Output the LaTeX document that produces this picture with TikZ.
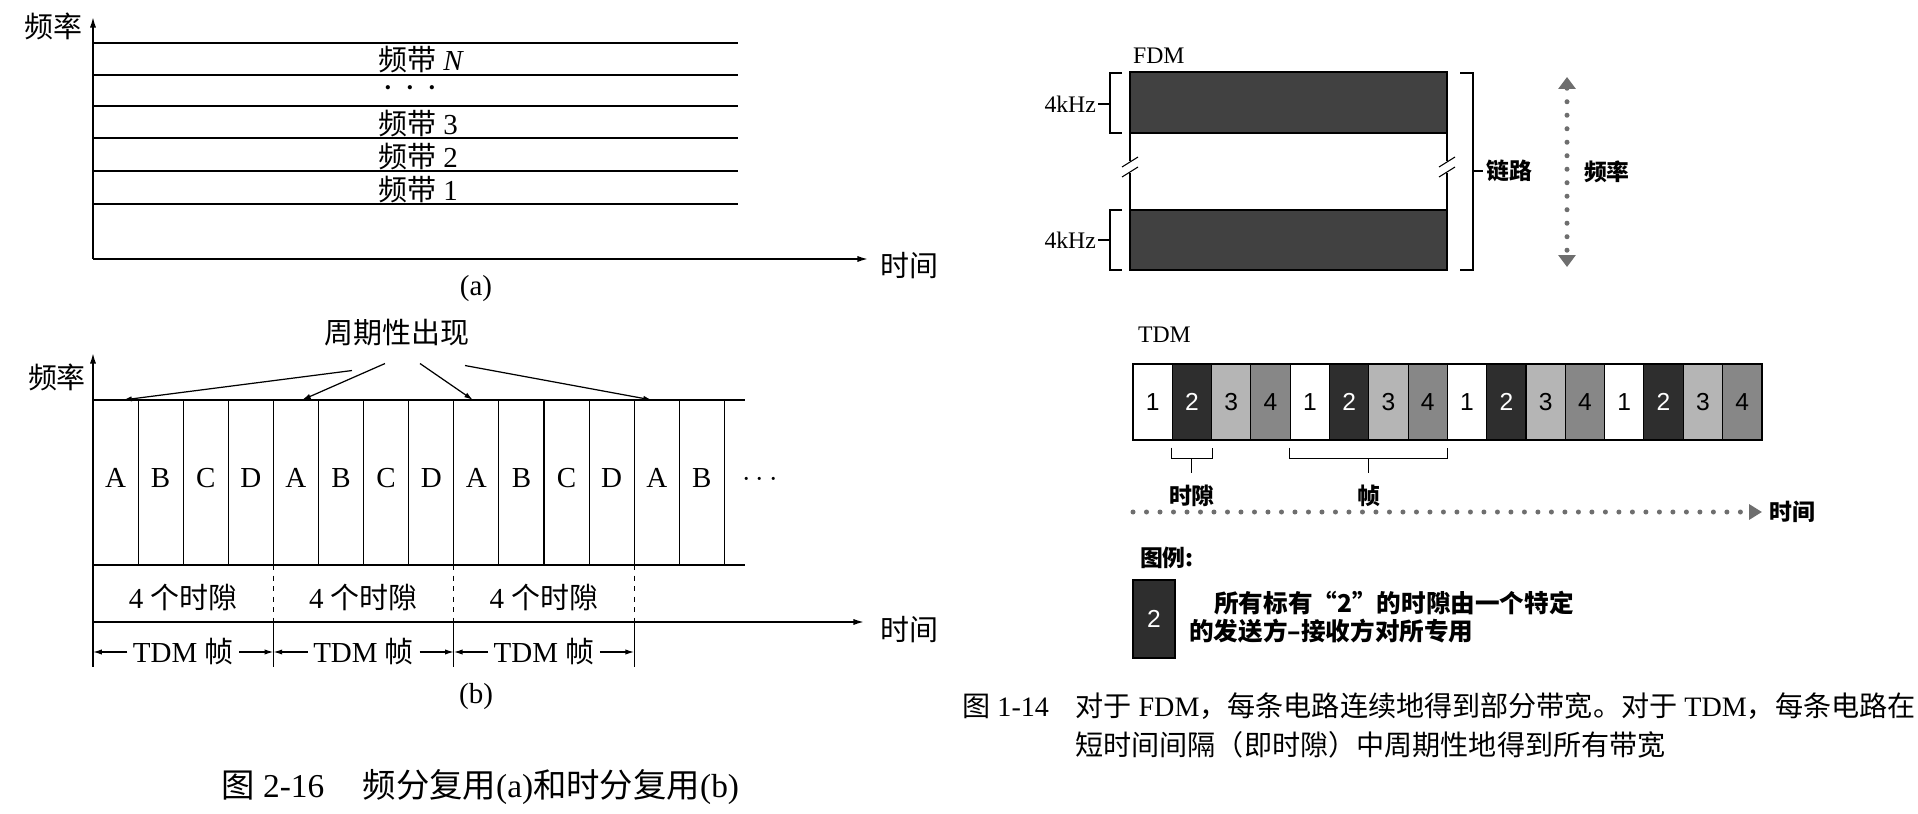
\documentclass[tikz,border=0pt]{standalone}
\usepackage{fontspec}
\setmainfont{Liberation Serif}
\newfontfamily\cjk{Noto Sans CJK SC}
\newfontfamily\numfont{Liberation Sans}
\usetikzlibrary{arrows.meta, positioning, calc}
\definecolor{slotDark}{HTML}{2E2E2E}
\definecolor{slotLight}{HTML}{B5B5B5}
\definecolor{slotMid}{HTML}{878787}
\definecolor{bandGray}{HTML}{414141}
\definecolor{dotGray}{HTML}{6E6E6E}
\newcommand{\zh}[1]{{\cjk #1}}

\begin{document}
\begin{tikzpicture}[x=0.02cm, y=-0.02cm,
  axis/.style={line width=0.9pt, -{Latex[length=6pt,width=3.5pt]}},
  arr/.style={line width=0.7pt, -{Latex[length=5pt,width=3pt]}},
  thin/.style={line width=0.6pt},
  lbl/.style={font=\fontsize{16.5}{19}\selectfont, inner sep=1pt},
  rlbl/.style={font=\cjk\fontsize{13}{15}\selectfont\bfseries, inner sep=1pt},
  rtxt/.style={font=\fontsize{13.5}{16}\selectfont, inner sep=1pt},
  keytxt/.style={font=\cjk\fontsize{14}{16}\selectfont\bfseries, inner sep=0pt, anchor=base west},
  captxt/.style={font=\fontsize{16}{19}\selectfont, inner sep=0pt, anchor=base west},
  slot/.style={draw=black, line width=0.6pt, minimum width=0.786cm,
    minimum height=1.52cm, inner sep=0pt, font=\numfont\fontsize{14}{16}\selectfont},
  dots/.style={dotGray, line width=0.1cm, line cap=round, dash pattern=on 0pt off 0.27cm},
  tip/.style={-{Triangle[length=0.26cm,width=0.3cm]}}]
  \path[use as bounding box, fill=white] (0,0) rectangle (1918,814);

  % (a) FDM
  \draw[axis] (93,259) -- (93,17);
  \draw[axis] (93,259) -- (868,259);
  \node[lbl] (fa) at (53,26) {\zh{频率}};
  \node[lbl, anchor=west] (ta) at (878,266) {\zh{时间}};
  \foreach \y in {43,75,106,138,171,204}
    \draw[thin] (93,\y) -- (738,\y);
  \node[lbl, anchor=south west] (bN) at (376,75) {\zh{频带} \textit{N}};
  \node[font=\fontsize{10}{12}\selectfont] (bdots) at (410,90)
    {\textbullet\hspace{9pt}\textbullet\hspace{9pt}\textbullet};
  \node[lbl, anchor=south west] (b3) at (376,139) {\zh{频带} 3};
  \node[lbl, anchor=south west] (b2) at (376,172) {\zh{频带} 2};
  \node[lbl, anchor=south west] (b1) at (376,205) {\zh{频带} 1};
  \node[lbl] (capa) at (476,289) {(a)};

  % (b) TDM
  \draw[axis] (93,622) -- (93,353);
  \draw[axis] (93,622) -- (864,622);
  \node[lbl] (fb) at (57,377) {\zh{频率}};
  \node[lbl, anchor=west] (tb) at (878,630) {\zh{时间}};
  \draw[thin] (93,400) -- (745,400);
  \draw[thin] (93,565) -- (745,565);
  \foreach \k in {1,...,14}
    \draw[thin] ({93+45.1*\k},400) -- ({93+45.1*\k},565);
  \foreach \l [count=\k] in {A,B,C,D,A,B,C,D,A,B,C,D,A,B}
    \node[lbl] (l\k) at ({93+45.1*(\k-0.5)},478) {\l};
  \node[lbl] (more) at (760,480) {$\cdots$};
  \foreach \k in {0,...,3} {
    \coordinate (t\k) at ({93+180.4*\k},652);
    \draw[thin] ({93+180.4*\k},622) -- ({93+180.4*\k},667);
  }
  \foreach \k in {1,2,3}
    \draw[thin, dashed] ({93+180.4*\k},565) -- ({93+180.4*\k},622);
  \foreach \k [evaluate=\k as \p using int(\k-1)] in {1,2,3} {
    \node[lbl] (g\k) at ({93+180.4*(\k-0.5)},597) {4 \zh{个时隙}};
    \node[lbl, inner sep=3pt] (fr\k) at ({93+180.4*(\k-0.5)},652) {TDM \zh{帧}};
    \draw[arr] (fr\k.west) -- (t\p);
    \draw[arr] (fr\k.east) -- (t\k);
  }
  \node[lbl] (per) at (397,333) {\zh{周期性出现}};
  \foreach \s/\x in {{-45,22}/123, {-12,15}/302, {23,15}/473, {68,17}/652}
    \draw[arr] ([shift={(\s)}]per.south) -- (\x,400);
  \node[lbl] (capb) at (476,697) {(b)};
  \node[font=\fontsize{19}{22}\selectfont, inner sep=0pt, anchor=west] (cap216) at (221,787)
    {\zh{图} 2-16\hspace{1.15em}\zh{频分复用}(a)\zh{和时分复用}(b)};

  % FDM (right)
  \node[rtxt, anchor=west] (fdm) at (1131,56) {FDM};
  \draw[line width=0.8pt, fill=bandGray] (1130,72) rectangle (1447,133);
  \draw[line width=0.8pt, fill=bandGray] (1130,210) rectangle (1447,270);
  \foreach \x in {1130,1447} {
    \draw[thin] (\x,133) -- (\x,161);
    \draw[thin] (\x,173) -- (\x,210);
    \draw[thin] (\x-8,167) -- (\x+8,157);
    \draw[thin] (\x-8,177) -- (\x+8,167);
  }
  \draw[thin] (1122,73) -- (1110,73) -- (1110,133) -- (1122,133);
  \draw[thin] (1110,104) -- (1098,104) coordinate (k1);
  \node[rtxt, left=0pt of k1] (khz1) {4kHz};
  \draw[thin] (1122,210) -- (1110,210) -- (1110,270) -- (1122,270);
  \draw[thin] (1110,240) -- (1098,240) coordinate (k2);
  \node[rtxt, left=0pt of k2] (khz2) {4kHz};
  \draw[thin] (1460,73) -- (1473,73) -- (1473,270) -- (1460,270);
  \draw[thin] (1473,171) -- (1483,171) coordinate (k3);
  \node[rlbl, right=1pt of k3] (link) {链路};
  \draw[dots, {Triangle[length=0.24cm,width=0.34cm]}-{Triangle[length=0.24cm,width=0.34cm]}]
    (1567,77) -- (1567,267);
  \node[rlbl, anchor=west] (fr) at (1582,172) {频率};

  % TDM (right)
  \node[rtxt, anchor=west] (tdm) at (1136,335) {TDM};
  \foreach \n/\f/\t in {1/white/black, 2/slotDark/white, 3/slotLight/black, 4/slotMid/black}
    \foreach \j in {0,...,3} {
      \pgfmathtruncatemacro\i{4*\j+\n}
      \node[slot, fill=\f, text=\t] (s\i) at ({1133+39.3*(\i-0.5)},402) {\n};
    }
  \draw[line width=0.9pt] (s1.north west) rectangle (s16.south east);
  \draw[thin] ([yshift=-4pt]s2.south west) -- ++(0,11) -| ([yshift=-4pt]s2.south east);
  \draw[thin] ($(s2.south west)!0.5!(s2.south east)+(0,18)$) -- ++(0,14) coordinate (ts);
  \node[rlbl, below=6pt of ts] (slotlbl) {时隙};
  \draw[thin] ([yshift=-4pt]s5.south west) -- ++(0,11) -| ([yshift=-4pt]s8.south east);
  \draw[thin] ($(s5.south west)!0.5!(s8.south east)+(0,18)$) -- ++(0,14) coordinate (tf);
  \node[rlbl, below=6pt of tf] (framelbl) {帧};
  \coordinate (tstart) at (1133,512);
  \coordinate (tend) at (1762,512);
  \draw[dots, tip] (tstart) -- (tend);
  \node[rlbl, right=3pt of tend] (timelbl) {时间};
  \node[rlbl, anchor=west] (legend) at (1138,558) {图例:};
  \node[slot, fill=slotDark, text=white, minimum width=0.84cm, minimum height=1.56cm] (key) at (1154,619) {2};
  \node[keytxt] (key1) at (1214,612) {所有标有“2”的时隙由一个特定};
  \node[keytxt] (key2) at (1189,640) {的发送方–接收方对所专用};
  \node[captxt] (cap114) at (962,716) {\zh{图} 1-14};
  \node[captxt] (cap114a) at (1075,716)
    {\zh{对于} FDM\zh{，每条电路连续地得到部分带宽。对于} TDM\zh{，每条电路在}};
  \node[captxt] (cap114b) at (1075,755) {\zh{短时间间隔（即时隙）中周期性地得到所有带宽}};
\end{tikzpicture}
\end{document}
